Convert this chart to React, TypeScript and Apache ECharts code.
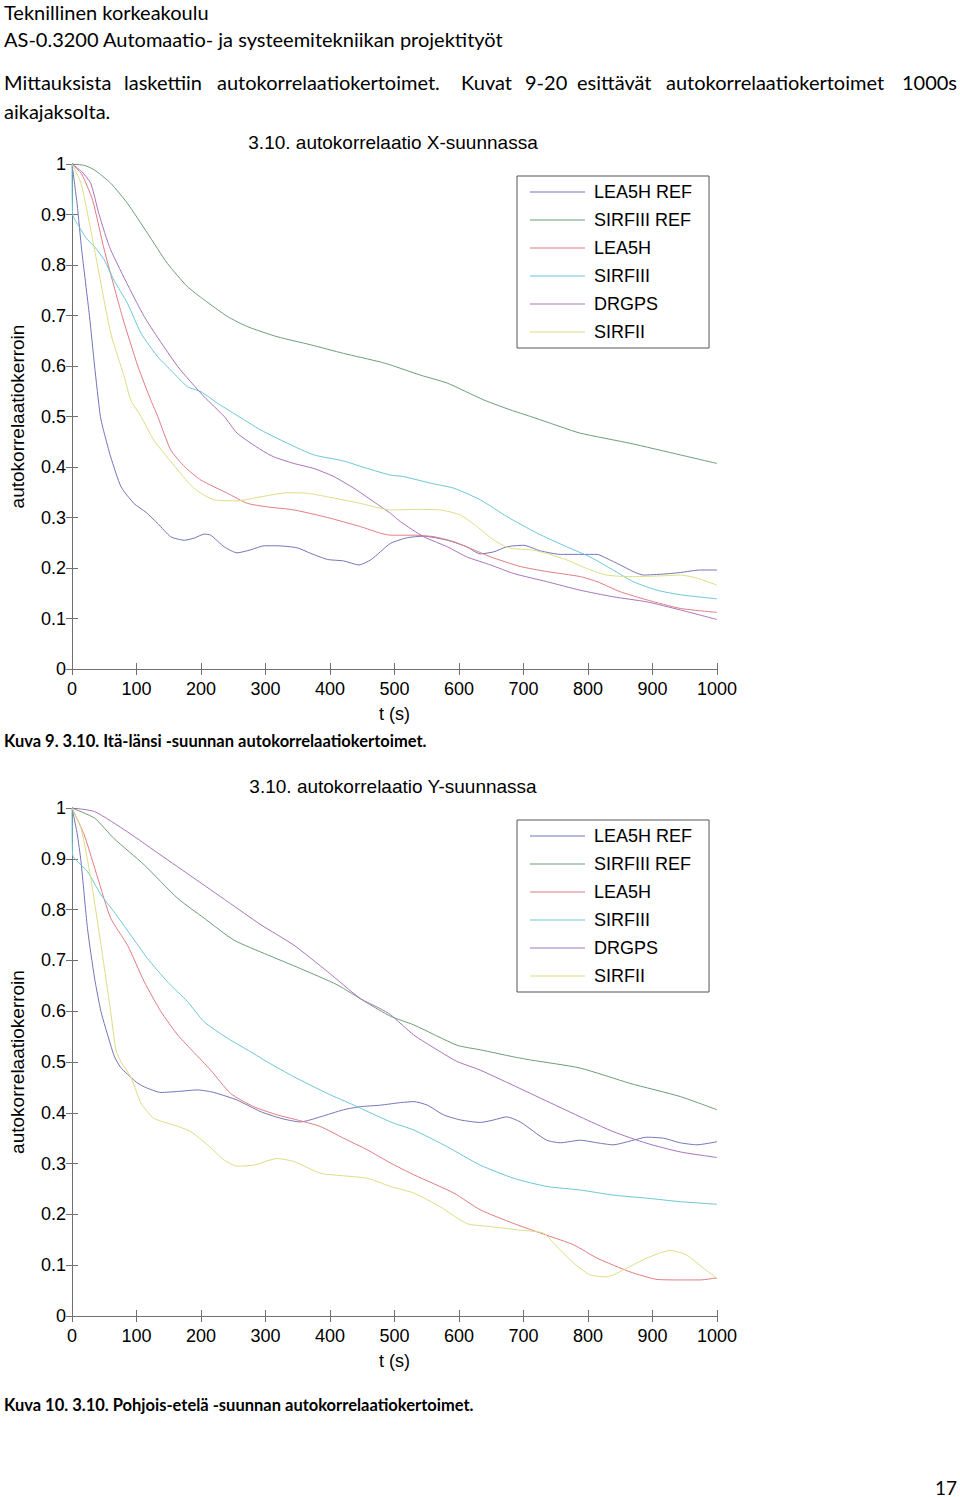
import React, { useEffect, useRef } from "react";
import * as echarts from "echarts";

// ---------- data (t in seconds, autocorrelation value) ----------
const seriesNames = ["LEA5H REF", "SIRFIII REF", "LEA5H", "SIRFIII", "DRGPS", "SIRFII"];
const seriesColors = ["#7474b8", "#6c9e78", "#e07c84", "#6cc6d6", "#a874bc", "#dedc84"];
const xTicks = [0, 100, 200, 300, 400, 500, 600, 700, 800, 900, 1000];

// Chart 1: X direction
const xLea5hRef: number[][] = [[0,1],[8,0.92],[15,0.83],[27,0.70],[35,0.60],[44,0.50],[50,0.467],[60,0.42],[76,0.361],[96,0.328],[115,0.31],[133,0.288],[153,0.262],[174,0.255],[189,0.259],[205,0.267],[215,0.265],[236,0.242],[256,0.230],[277,0.236],[298,0.244],[318,0.244],[349,0.240],[370,0.229],[396,0.217],[421,0.214],[445,0.206],[463,0.216],[478,0.232],[494,0.249],[520,0.260],[545,0.263],[582,0.255],[612,0.242],[633,0.228],[654,0.232],[674,0.242],[700,0.245],[726,0.234],[757,0.227],[814,0.227],[829,0.219],[850,0.206],[870,0.193],[886,0.186],[917,0.188],[943,0.191],[974,0.196],[1000,0.196]];
const xSirfiiiRef: number[][] = [[0,1],[20,0.997],[35,0.988],[60,0.962],[86,0.922],[117,0.863],[148,0.803],[179,0.757],[205,0.731],[241,0.698],[272,0.678],[318,0.658],[370,0.642],[421,0.625],[478,0.608],[494,0.602],[540,0.582],[582,0.566],[638,0.533],[680,0.513],[711,0.500],[750,0.483],[788,0.467],[865,0.447],[943,0.424],[1000,0.407]];
const xLea5h: number[][] = [[0,1],[15,0.98],[32,0.928],[50,0.83],[78,0.698],[102,0.60],[122,0.533],[133,0.50],[153,0.434],[175,0.40],[200,0.374],[241,0.348],[272,0.328],[303,0.321],[344,0.315],[396,0.300],[447,0.282],[478,0.269],[494,0.265],[530,0.265],[561,0.262],[592,0.252],[623,0.236],[649,0.222],[695,0.203],[736,0.193],[788,0.183],[814,0.173],[850,0.153],[891,0.137],[943,0.120],[1000,0.112]];
const xSirfiii: number[][] = [[0,1],[1,0.90],[6,0.886],[11,0.876],[22,0.853],[35,0.836],[50,0.810],[65,0.770],[86,0.724],[107,0.665],[133,0.618],[153,0.592],[179,0.559],[200,0.549],[226,0.526],[251,0.506],[293,0.473],[334,0.447],[375,0.424],[421,0.412],[458,0.397],[494,0.384],[514,0.381],[556,0.368],[592,0.358],[633,0.335],[674,0.302],[721,0.269],[767,0.242],[803,0.222],[839,0.196],[870,0.173],[907,0.156],[943,0.147],[1000,0.139]];
const xDrgps: number[][] = [[0,1],[15,0.985],[29,0.962],[42,0.90],[60,0.83],[112,0.698],[164,0.599],[205,0.539],[236,0.50],[256,0.467],[293,0.434],[313,0.420],[344,0.407],[375,0.397],[406,0.381],[437,0.358],[468,0.331],[494,0.308],[509,0.292],[545,0.262],[582,0.242],[612,0.222],[649,0.206],[685,0.189],[736,0.173],[788,0.156],[839,0.143],[891,0.133],[943,0.117],[1000,0.098]];
const xSirfii: number[][] = [[0,1],[14,0.962],[35,0.83],[60,0.665],[81,0.579],[91,0.533],[107,0.50],[127,0.453],[164,0.394],[189,0.358],[220,0.335],[256,0.333],[293,0.341],[334,0.349],[365,0.348],[396,0.341],[447,0.328],[494,0.315],[530,0.316],[571,0.315],[602,0.305],[628,0.282],[654,0.255],[680,0.239],[711,0.236],[736,0.229],[767,0.216],[798,0.199],[829,0.186],[865,0.183],[907,0.184],[943,0.186],[969,0.180],[1000,0.166]];

// Chart 2: Y direction
const yLea5hRef: number[][] = [[0,1],[8,0.95],[14,0.894],[24,0.763],[35,0.665],[45,0.599],[60,0.533],[66,0.51],[75,0.49],[86,0.476],[100,0.46],[112,0.451],[138,0.440],[164,0.442],[195,0.445],[220,0.440],[256,0.425],[293,0.402],[324,0.389],[354,0.382],[385,0.392],[421,0.406],[447,0.412],[478,0.415],[509,0.420],[530,0.422],[551,0.415],[576,0.396],[602,0.386],[633,0.381],[654,0.386],[674,0.392],[695,0.382],[716,0.363],[736,0.346],[757,0.341],[788,0.346],[814,0.341],[839,0.337],[870,0.346],[891,0.352],[917,0.350],[943,0.341],[969,0.337],[1000,0.343]];
const ySirfiiiRef: number[][] = [[0,1],[35,0.980],[65,0.940],[112,0.888],[164,0.822],[205,0.783],[251,0.740],[303,0.711],[354,0.684],[411,0.652],[458,0.616],[494,0.590],[530,0.573],[597,0.533],[633,0.524],[685,0.510],[711,0.504],[788,0.488],[865,0.458],[943,0.432],[1000,0.406]];
const yLea5h: number[][] = [[0,1],[19,0.947],[40,0.862],[60,0.783],[86,0.730],[112,0.658],[138,0.599],[164,0.553],[189,0.519],[215,0.484],[246,0.438],[282,0.412],[318,0.396],[349,0.386],[385,0.373],[421,0.350],[458,0.327],[494,0.301],[530,0.278],[592,0.242],[633,0.209],[685,0.182],[736,0.159],[778,0.140],[814,0.114],[865,0.087],[907,0.072],[943,0.071],[974,0.071],[1000,0.075]];
const ySirfiii: number[][] = [[0,1],[1,0.907],[9,0.894],[24,0.875],[45,0.829],[65,0.796],[91,0.750],[117,0.704],[148,0.658],[179,0.619],[205,0.579],[241,0.547],[277,0.520],[303,0.50],[344,0.471],[396,0.438],[437,0.415],[494,0.382],[530,0.366],[582,0.333],[633,0.297],[685,0.271],[736,0.255],[788,0.248],[839,0.238],[891,0.232],[943,0.225],[1000,0.220]];
const yDrgps: number[][] = [[0,1],[35,0.993],[86,0.953],[138,0.907],[189,0.862],[241,0.816],[293,0.770],[344,0.730],[396,0.678],[447,0.625],[478,0.605],[494,0.593],[530,0.553],[566,0.524],[597,0.501],[633,0.484],[711,0.438],[788,0.392],[839,0.363],[891,0.340],[943,0.323],[1000,0.312]];
const ySirfii: number[][] = [[0,1],[14,0.960],[29,0.862],[45,0.730],[60,0.599],[68,0.524],[76,0.50],[91,0.471],[107,0.419],[127,0.389],[158,0.376],[184,0.363],[210,0.337],[236,0.307],[256,0.295],[282,0.297],[318,0.310],[344,0.304],[385,0.281],[421,0.276],[458,0.271],[494,0.255],[530,0.242],[571,0.215],[612,0.182],[649,0.176],[695,0.169],[731,0.163],[752,0.136],[778,0.104],[803,0.081],[829,0.077],[860,0.094],[891,0.114],[927,0.129],[953,0.120],[979,0.094],[1000,0.074]];

const chartXData = [xLea5hRef, xSirfiiiRef, xLea5h, xSirfiii, xDrgps, xSirfii];
const chartYData = [yLea5hRef, ySirfiiiRef, yLea5h, ySirfiii, yDrgps, ySirfii];

const chartTitles = ["3.10. autokorrelaatio X-suunnassa", "3.10. autokorrelaatio Y-suunnassa"];
const xAxisName = "t (s)";
const yAxisName = "autokorrelaatiokerroin";
const captions = [
  "Kuva 9. 3.10. Itä-länsi -suunnan autokorrelaatiokertoimet.",
  "Kuva 10. 3.10. Pohjois-etelä -suunnan autokorrelaatiokertoimet.",
];
const headerLines = ["Teknillinen korkeakoulu", "AS-0.3200 Automaatio- ja systeemitekniikan projektityöt"];
const paragraphWords = ["Mittauksista", "laskettiin", "autokorrelaatiokertoimet.", "Kuvat", "9-20", "esittävät", "autokorrelaatiokertoimet", "1000s"];
const paragraphWordX = [4, 124, 217, 461, 525, 577, 666, 957];
const paragraphLine2 = "aikajaksolta.";
const pageNumber = "17";

// ---------- layout ----------
const PAGE_W = 960;
const PAGE_H = 1497;
const grids = [
  { left: 71, top: 164, width: 646, height: 505 },
  { left: 71, top: 808, width: 646, height: 508 },
];
const AXIS_COLOR = "#707070";
const PLOT_FONT = "'Liberation Sans', Arial, sans-serif";
const DOC_FONT = "Lato, 'Open Sans', sans-serif";

function buildOption() {
  const xAxes: any[] = [];
  const yAxes: any[] = [];
  const series: any[] = [];
  const legends: any[] = [];
  grids.forEach((g, gi) => {
    xAxes.push({
      gridIndex: gi, type: "value", min: xTicks[0], max: xTicks[xTicks.length - 1], interval: 100,
      position: "bottom",
      axisLine: { lineStyle: { color: AXIS_COLOR, width: 1 } },
      axisTick: { inside: true, length: 6, lineStyle: { color: AXIS_COLOR } },
      axisLabel: { color: "#000", fontSize: 18, fontFamily: PLOT_FONT, margin: 11, formatter: (v: number) => String(v) },
      splitLine: { show: false },
      name: xAxisName, nameLocation: "middle", nameGap: 36,
      nameTextStyle: { color: "#000", fontSize: 18, fontFamily: PLOT_FONT },
    });
    xAxes.push({
      gridIndex: gi, type: "value", min: 0, max: 1000, interval: 100, position: "top",
      axisLine: { lineStyle: { color: AXIS_COLOR, width: 1 } },
      axisTick: { inside: true, length: 6, lineStyle: { color: AXIS_COLOR } },
      axisLabel: { show: false }, splitLine: { show: false },
    });
    yAxes.push({
      gridIndex: gi, type: "value", min: 0, max: 1, interval: 0.1, position: "left",
      axisLine: { show: true, lineStyle: { color: AXIS_COLOR, width: 1 } },
      axisTick: { show: true, inside: true, length: 6, lineStyle: { color: AXIS_COLOR } },
      axisLabel: { color: "#000", fontSize: 18, fontFamily: PLOT_FONT, margin: 6 },
      splitLine: { show: false },
      name: yAxisName, nameLocation: "middle", nameGap: 45, nameRotate: 90,
      nameTextStyle: { color: "#000", fontSize: 19, fontFamily: PLOT_FONT },
    });
    yAxes.push({
      gridIndex: gi, type: "value", min: 0, max: 1, interval: 0.1, position: "right",
      axisLine: { show: true, lineStyle: { color: AXIS_COLOR, width: 1 } },
      axisTick: { show: true, inside: true, length: 6, lineStyle: { color: AXIS_COLOR } },
      axisLabel: { show: false }, splitLine: { show: false },
    });
    const dataSet = gi === 0 ? chartXData : chartYData;
    seriesNames.forEach((name, si) => {
      series.push({
        name, type: "line", xAxisIndex: gi * 2, yAxisIndex: gi * 2,
        data: dataSet[si], symbol: "none", showSymbol: false, smooth: 0.2,
        lineStyle: { width: 1, color: seriesColors[si] }, itemStyle: { color: seriesColors[si] },
        emphasis: { disabled: true },
      });
    });
    legends.push({
      data: seriesNames, orient: "vertical", left: 517, top: g.top + 12,
      icon: "rect", itemWidth: 55, itemHeight: 1, itemGap: 10,
      padding: [7, 17, 7, 13],
      borderColor: "#555", borderWidth: 1, backgroundColor: "#fff",
      textStyle: { color: "#000", fontSize: 18, fontFamily: PLOT_FONT, padding: [0, 0, 0, 4], lineHeight: 18 },
      selectedMode: false,
    });
  });

  const graphic: any[] = [];
  const docText = (text: string, x: number, y: number, size: number, opts: any = {}) => ({
    type: "text", x, y, silent: true,
    style: { text, fill: "#000", font: `${opts.bold ? "bold " : ""}${size}px ${opts.font || DOC_FONT}`,
      textAlign: opts.align || "left", textVerticalAlign: "middle" },
  });
  graphic.push(docText(headerLines[0], 4, 12, 20));
  graphic.push(docText(headerLines[1], 4, 39, 20));
  paragraphWords.forEach((w, i) => {
    const last = i === paragraphWords.length - 1;
    graphic.push(docText(w, paragraphWordX[i], 82, 20, { align: last ? "right" : "left" }));
  });
  graphic.push(docText(paragraphLine2, 4, 111, 20));
  graphic.push(docText(chartTitles[0], 393, 142, 19, { font: PLOT_FONT, align: "center" }));
  graphic.push(docText(chartTitles[1], 393, 786, 19, { font: PLOT_FONT, align: "center" }));
  graphic.push(docText(captions[0], 4, 741, 16.5, { bold: true }));
  graphic.push(docText(captions[1], 4, 1405, 16.5, { bold: true }));
  graphic.push(docText(pageNumber, 957, 1487, 19, { align: "right" }));

  return {
    animation: false,
    backgroundColor: "#fff",
    grid: grids.map((g) => ({ ...g, containLabel: false })),
    xAxis: xAxes,
    yAxis: yAxes,
    legend: legends,
    series,
    graphic,
  };
}

export default function App() {
  const ref = useRef<HTMLDivElement>(null);
  useEffect(() => {
    if (!ref.current) return;
    const chart = echarts.init(ref.current, undefined, { renderer: "svg" });
    chart.setOption(buildOption());
    return () => chart.dispose();
  }, []);
  return (
    <div
      ref={ref}
      style={{ position: "absolute", left: 0, top: 0, width: PAGE_W, height: PAGE_H, background: "#fff" }}
    />
  );
}
